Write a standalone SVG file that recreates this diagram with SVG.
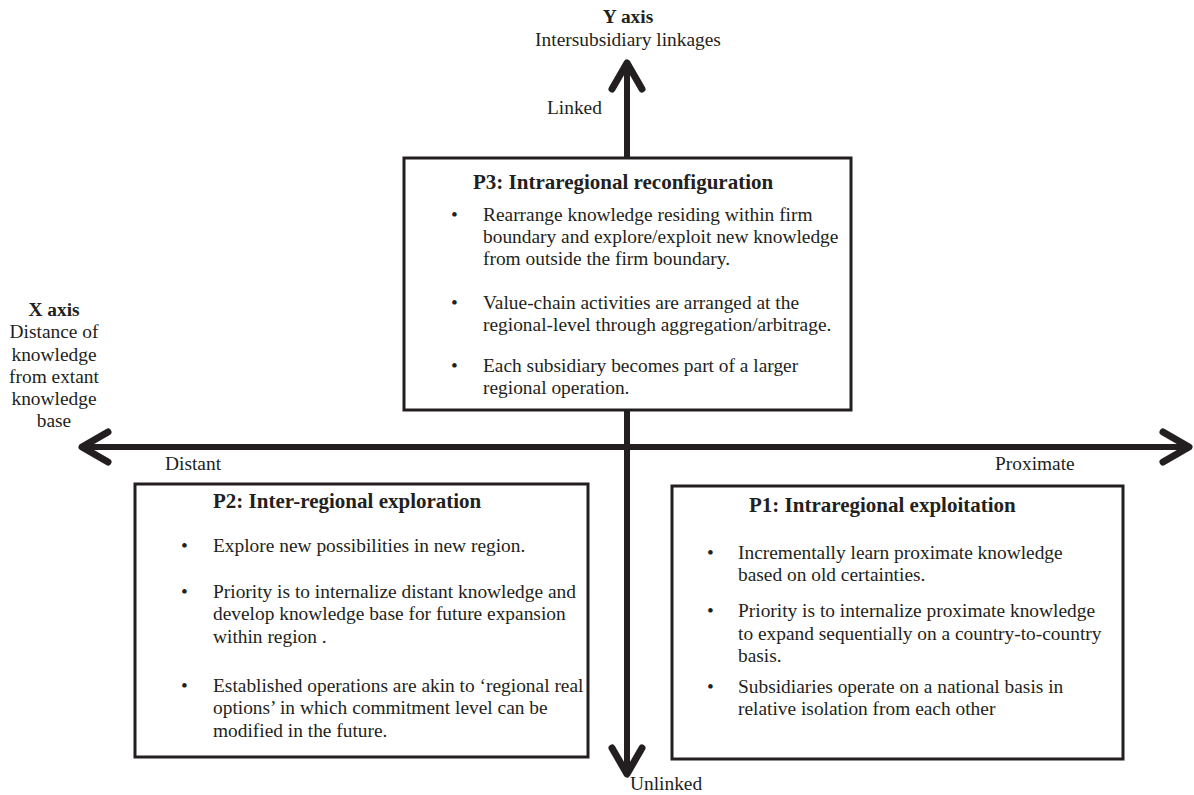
<svg xmlns="http://www.w3.org/2000/svg" width="1194" height="795" viewBox="0 0 1194 795">
<style>
text{font-family:"Liberation Serif","Times New Roman",serif;fill:#231f20;font-size:19.4px}
.b{font-weight:bold}
.t{font-weight:bold;font-size:21px}
.m{text-anchor:middle}
.box{fill:#fff;stroke:#231f20;stroke-width:3}
.ax{stroke:#231f20;stroke-width:6;fill:none}
</style>
<defs>
<marker id="ah" markerUnits="userSpaceOnUse" markerWidth="40" markerHeight="40" refX="0" refY="0" orient="auto-start-reverse" overflow="visible" viewBox="-40 -20 40 40">
<path d="M-26 -15 L0 0 L-26 15" fill="none" stroke="#231f20" stroke-width="7" stroke-linecap="round" stroke-linejoin="round"/>
</marker>
</defs>
<g id="connectors">
<line class="ax" x1="82" y1="447" x2="1189" y2="447" marker-start="url(#ah)" marker-end="url(#ah)"/>
<line class="ax" x1="627" y1="158" x2="627" y2="63" marker-end="url(#ah)"/>
<line class="ax" x1="627" y1="410" x2="627" y2="774" marker-end="url(#ah)"/>
</g>
<g id="yaxis-label">
<text class="b m" x="628" y="23">Y axis</text>
<text class="m" x="628" y="46">Intersubsidiary linkages</text>
<text x="547" y="114">Linked</text>
<text x="630" y="790">Unlinked</text>
</g>
<g id="xaxis-label">
<text class="b m" x="54" y="316">X axis</text>
<text class="m" x="54" y="338">Distance of</text>
<text class="m" x="54" y="361">knowledge</text>
<text class="m" x="54" y="383">from extant</text>
<text class="m" x="54" y="405">knowledge</text>
<text class="m" x="54" y="427">base</text>
<text x="165" y="470">Distant</text>
<text x="995" y="470">Proximate</text>
</g>
<g id="p3">
<rect class="box" x="404" y="158" width="447" height="252"/>
<text class="t" x="473" y="189">P3: Intraregional reconfiguration</text>
<text x="451" y="221">•</text>
<text x="483" y="221">Rearrange knowledge residing within firm</text>
<text x="483" y="243">boundary and explore/exploit new knowledge</text>
<text x="483" y="265">from outside the firm boundary.</text>
<text x="451" y="309">•</text>
<text x="483" y="309">Value-chain activities are arranged at the</text>
<text x="483" y="331">regional-level through aggregation/arbitrage.</text>
<text x="451" y="372">•</text>
<text x="483" y="372">Each subsidiary becomes part of a larger</text>
<text x="483" y="394">regional operation.</text>
</g>
<g id="p2">
<rect class="box" x="135" y="484" width="453" height="273"/>
<text class="t" x="213" y="508">P2: Inter-regional exploration</text>
<text x="181" y="552">•</text>
<text x="213" y="552">Explore new possibilities in new region.</text>
<text x="181" y="598">•</text>
<text x="213" y="598">Priority is to internalize distant knowledge and</text>
<text x="213" y="620">develop knowledge base for future expansion</text>
<text x="213" y="643">within region .</text>
<text x="181" y="692">•</text>
<text x="213" y="692">Established operations are akin to ‘regional real</text>
<text x="213" y="714">options’ in which commitment level can be</text>
<text x="213" y="737">modified in the future.</text>
</g>
<g id="p1">
<rect class="box" x="672" y="486" width="451" height="273"/>
<text class="t" x="749" y="512">P1: Intraregional exploitation</text>
<text x="707" y="559">•</text>
<text x="738" y="559">Incrementally learn proximate knowledge</text>
<text x="738" y="581">based on old certainties.</text>
<text x="707" y="617">•</text>
<text x="738" y="617">Priority is to internalize proximate knowledge</text>
<text x="738" y="640">to expand sequentially on a country-to-country</text>
<text x="738" y="662">basis.</text>
<text x="707" y="693">•</text>
<text x="738" y="693">Subsidiaries operate on a national basis in</text>
<text x="738" y="715">relative isolation from each other</text>
</g>
</svg>
